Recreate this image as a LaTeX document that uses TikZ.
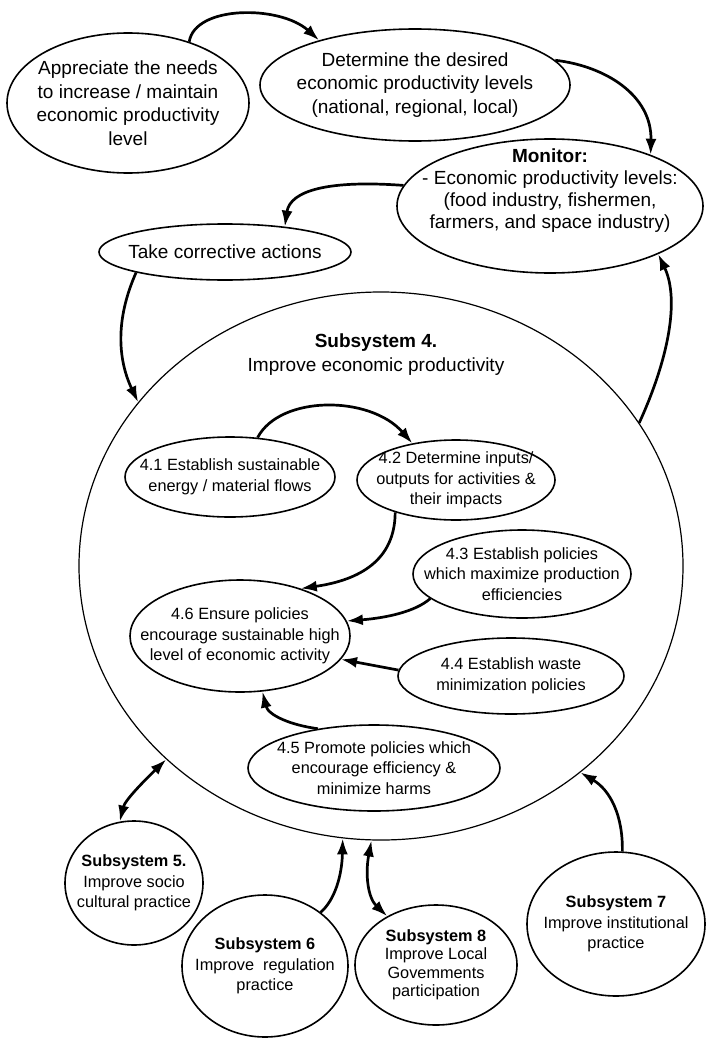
\documentclass[tikz,border=0pt]{standalone}
\usepackage{fontspec}
\setmainfont{Liberation Sans}
\usetikzlibrary{shapes.geometric,arrows.meta}
\begin{document}
\begin{tikzpicture}[x=1pt,y=-1pt,
  every node/.style={inner sep=0pt},
  ell/.style={draw, ellipse, line width=1.6pt, inner xsep=-60pt, inner ysep=-40pt, align=center},
  lg/.style={font=\fontsize{19}{23.5}\selectfont},
  sm/.style={font=\fontsize{16.3}{20.5}\selectfont},
  tip/.tip={Latex[length=16pt,width=11pt]},
  flow/.style={line width=2.7pt, -tip},
  twoway/.style={line width=2.7pt, tip-tip},
]
\useasboundingbox (0,0) rectangle (707,1038);

% outer loop
\node[ell, lg, minimum width=242, minimum height=140] (need) at (128,103)
  {Appreciate the needs\\to increase / maintain\\economic productivity\\level};
\node[ell, lg, minimum width=310, minimum height=112] (det) at (415,85)
  {Determine the desired\\economic productivity levels\\(national, regional, local)};
\node[ell, minimum width=306, minimum height=134] (mon) at (550,206) {};
\node[lg, align=center, font=\fontsize{19}{22}\selectfont] (monT) at (550,191)
  {\textbf{Monitor:}\\- Economic productivity levels:\\(food industry, fishermen,\\farmers, and space industry)};
\node[ell, lg, minimum width=252, minimum height=56] (corr) at (225,252)
  {Take corrective actions};

% subsystem 4
\node[draw, ellipse, line width=1.2pt, minimum width=604, minimum height=548] (sub4) at (381,566) {};
\node[lg, align=center, font=\fontsize{19}{24}\selectfont] (s4t) at (376,355)
  {\textbf{Subsystem 4.}\\Improve economic productivity};

\node[ell, sm, minimum width=210, minimum height=80] (p41) at (230,477)
  {4.1 Establish sustainable\\energy / material flows};
\node[ell, sm, minimum width=198, minimum height=80] (p42) at (456,480)
  {4.2 Determine inputs/\\outputs for activities \&\\their impacts};
\node[ell, sm, minimum width=218, minimum height=88] (p43) at (522,574)
  {4.3 Establish policies\\which maximize production\\efficiencies};
\node[ell, sm, minimum width=220, minimum height=112] (p46) at (240,636)
  {4.6 Ensure policies\\encourage sustainable high\\level of economic activity};
\node[ell, sm, minimum width=226, minimum height=76] (p44) at (511,676)
  {4.4 Establish waste\\minimization policies};
\node[ell, sm, minimum width=252, minimum height=86] (p45) at (374,768)
  {4.5 Promote policies which\\encourage efficiency \&\\minimize harms};

% neighbouring subsystems
\node[ell, sm, minimum width=138, minimum height=124] (s5) at (134,883)
  {\textbf{Subsystem 5.}\\Improve socio\\cultural practice};
\node[ell, sm, minimum width=166, minimum height=142] (s6) at (265,966)
  {\textbf{Subsystem 6}\\Improve\ \ regulation\\practice};
\node[ell, sm, font=\fontsize{16.3}{18.5}\selectfont, minimum width=162, minimum height=120] (s8) at (436,965)
  {\textbf{Subsystem 8}\\Improve Local\\Govemments\\participation};
\node[ell, sm, minimum width=178, minimum height=144] (s7) at (616,924)
  {\textbf{Subsystem 7}\\Improve institutional\\practice};

% connectors
\draw[flow] (need.45) .. controls (195,5) and (280,5) .. (det.155);
\draw[flow] (det.10) .. controls (605,66) and (652,95) .. (mon.27);
\draw[flow] (mon.172) .. controls (330,180) and (290,190) .. (corr.23);
\draw[flow] (corr.193) .. controls (115,320) and (118,360) .. (sub4.146);
\draw[flow] (sub4.29) .. controls (668,360) and (680,300) .. (mon.-24);

\draw[flow] (p41.55) .. controls (280,395) and (370,395) .. (p42.140);
\draw[flow] (p42.208) .. controls (395,560) and (360,580) .. (p46.38);
\draw[flow] (p43.195) .. controls (415,612) and (385,618) .. (p46.8);
\draw[flow] (p44.177) -- (p46.-13);
\draw[flow] (p45.145) .. controls (290,725) and (268,715) .. (p46.-68);

\draw[twoway] (sub4.222) .. controls (145,780) and (125,800) .. (s5.103);
\draw[flow] (s6.44) .. controls (335,900) and (342,875) .. (sub4.262);
\draw[twoway] (sub4.268) .. controls (365,875) and (368,898) .. (s8.135);
\draw[flow] (s7.85) .. controls (623,815) and (610,790) .. (sub4.-46);
\end{tikzpicture}
\end{document}
